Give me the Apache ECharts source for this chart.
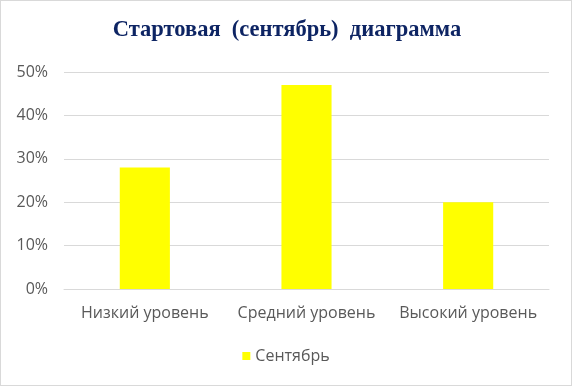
<!DOCTYPE html>
<html><head><meta charset="utf-8">
<script src="https://cdn.jsdelivr.net/npm/echarts@6/dist/echarts.min.js"></script>
<style>html,body{margin:0;padding:0;background:#fff}#c{width:572px;height:386px;box-sizing:border-box;border:1px solid #d9d9d9}</style>
</head><body><div id="c"></div>
<script>
const categories = ['Низкий уровень', 'Средний уровень', 'Высокий уровень'];
const seriesName = 'Сентябрь';
const values = [0.28, 0.47, 0.20];
const titleText = 'Стартовая  (сентябрь)  диаграмма';

const chart = echarts.init(document.getElementById('c'), null, {renderer: 'canvas'});
const labelFont = 'Open Sans';
chart.setOption({
  animation: false,
  title: {
    text: titleText, left: 281, top: 13, textAlign: 'center',
    textStyle: {fontFamily: 'Liberation Serif', fontWeight: 'bold', fontSize: 22.5, color: '#0d2463'}
  },
  legend: {
    bottom: 16, left: 'center', itemWidth: 8, itemHeight: 8, itemGap: 7,
    icon: 'rect',
    textStyle: {fontFamily: labelFont, fontSize: 16, color: '#595959'},
    data: [seriesName]
  },
  grid: {left: 63, right: 22, top: 71, bottom: 96, containLabel: false},
  xAxis: {
    type: 'category', data: categories,
    axisLine: {lineStyle: {color: '#d9d9d9', width: 1}},
    axisTick: {show: false},
    axisLabel: {fontFamily: labelFont, fontSize: 16, color: '#595959', margin: 16, interval: 0, hideOverlap: false}
  },
  yAxis: {
    type: 'value', min: 0, max: 0.5, interval: 0.1,
    axisLine: {show: false}, axisTick: {show: false},
    splitLine: {lineStyle: {color: '#d9d9d9', width: 1}},
    axisLabel: {fontFamily: labelFont, fontSize: 16, color: '#595959', margin: 16,
      formatter: v => Math.round(v * 100) + '%'}
  },
  series: [{
    name: seriesName, type: 'bar', data: values, barWidth: '31%',
    itemStyle: {color: '#ffff00'}
  }]
});
</script></body></html>
